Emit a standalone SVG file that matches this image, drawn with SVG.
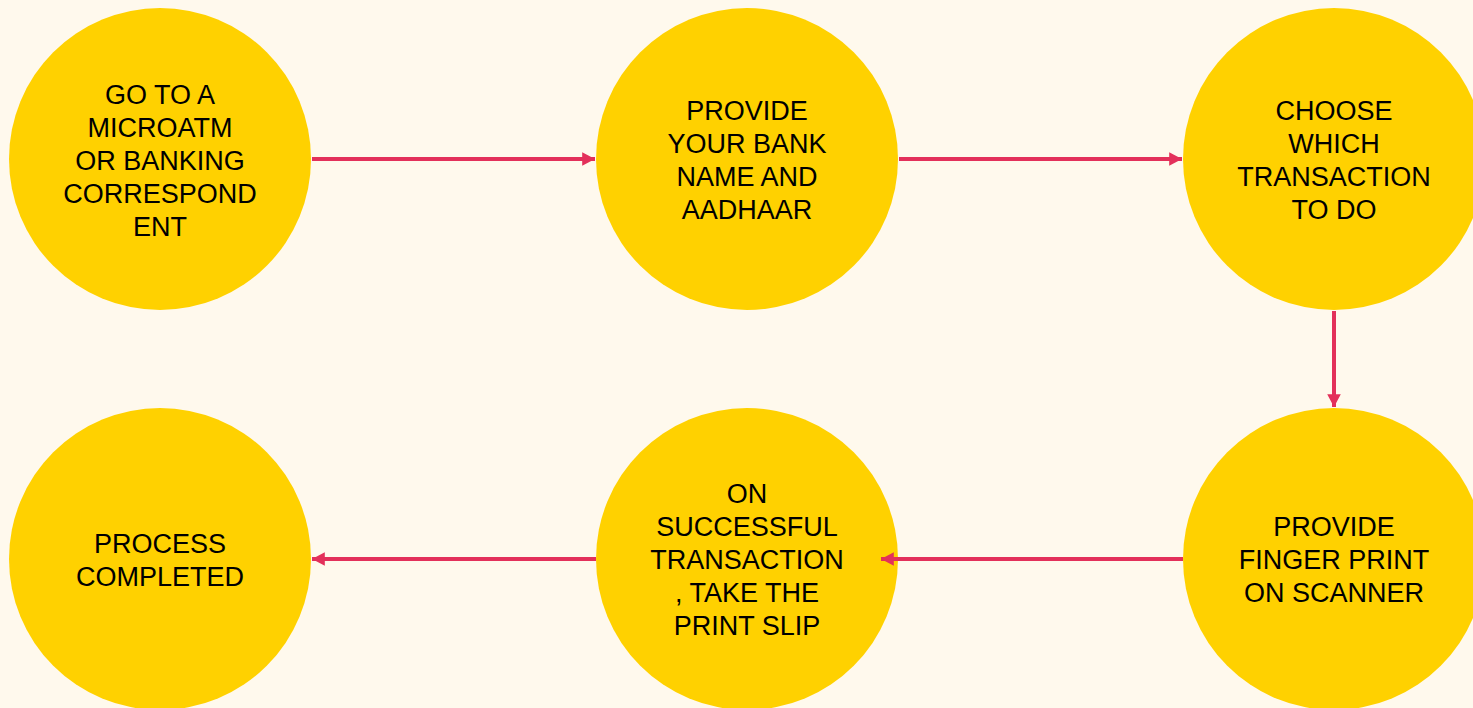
<svg xmlns="http://www.w3.org/2000/svg" width="1473" height="708" viewBox="0 0 1473 708">
<style>
.n{fill:#FFD100}
.t{font-family:"Liberation Sans",Arial,sans-serif;font-size:27px;fill:#000;text-anchor:middle}
.c{stroke:#E3305A;stroke-width:4;fill:none}
</style>
<defs>
<marker id="ah" markerWidth="4" markerHeight="4" refX="3.2" refY="2" orient="auto" markerUnits="strokeWidth">
<path d="M0,0.3 L3.2,2 L0,3.7 Z" fill="#E3305A"/>
</marker>
</defs>
<rect width="1473" height="708" fill="#FFF9ED"/>
<g id="n1"><circle class="n" cx="160" cy="159" r="151"/>
<text class="t"><tspan x="160" y="103.5">GO TO A</tspan><tspan x="160" y="136.5">MICROATM</tspan><tspan x="160" y="169.5">OR BANKING</tspan><tspan x="160" y="202.5">CORRESPOND</tspan><tspan x="160" y="235.5">ENT</tspan></text></g>
<g id="n2"><circle class="n" cx="747" cy="159" r="151"/>
<text class="t"><tspan x="747" y="119.5">PROVIDE</tspan><tspan x="747" y="152.5">YOUR BANK</tspan><tspan x="747" y="185.5">NAME AND</tspan><tspan x="747" y="218.5">AADHAAR</tspan></text></g>
<g id="n3"><circle class="n" cx="1334" cy="159" r="151"/>
<text class="t"><tspan x="1334" y="119.5">CHOOSE</tspan><tspan x="1334" y="152.5">WHICH</tspan><tspan x="1334" y="185.5">TRANSACTION</tspan><tspan x="1334" y="218.5">TO DO</tspan></text></g>
<g id="n4"><circle class="n" cx="1334" cy="559" r="151"/>
<text class="t"><tspan x="1334" y="535.5">PROVIDE</tspan><tspan x="1334" y="568.5">FINGER PRINT</tspan><tspan x="1334" y="601.5">ON SCANNER</tspan></text></g>
<g id="n5"><circle class="n" cx="747" cy="559" r="151"/>
<text class="t"><tspan x="747" y="502.5">ON</tspan><tspan x="747" y="535.5">SUCCESSFUL</tspan><tspan x="747" y="568.5">TRANSACTION</tspan><tspan x="747" y="601.5">, TAKE THE</tspan><tspan x="747" y="634.5">PRINT SLIP</tspan></text></g>
<g id="n6"><circle class="n" cx="160" cy="559" r="151"/>
<text class="t"><tspan x="160" y="552.5">PROCESS</tspan><tspan x="160" y="585.5">COMPLETED</tspan></text></g>
<g id="connectors">
<line class="c" x1="312" y1="159" x2="595" y2="159" marker-end="url(#ah)"/>
<line class="c" x1="899" y1="159" x2="1182" y2="159" marker-end="url(#ah)"/>
<line class="c" x1="1334" y1="311" x2="1334" y2="407" marker-end="url(#ah)"/>
<line class="c" x1="1183" y1="559" x2="881" y2="559" marker-end="url(#ah)"/>
<line class="c" x1="596" y1="559" x2="312" y2="559" marker-end="url(#ah)"/>
</g>
</svg>
